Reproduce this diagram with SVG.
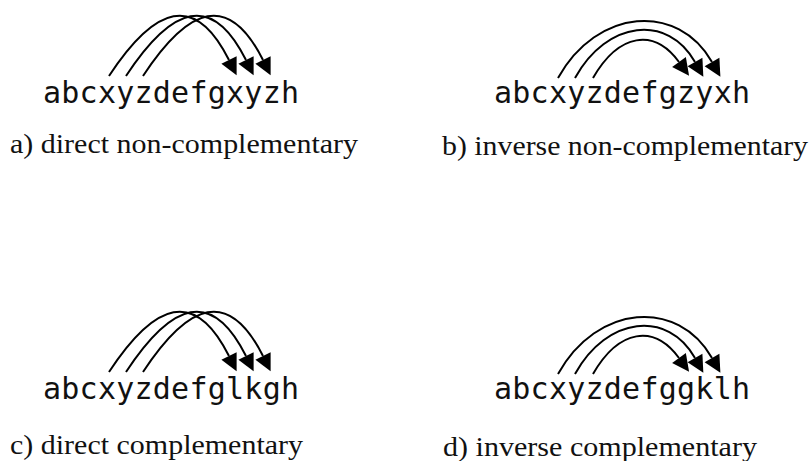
<svg xmlns="http://www.w3.org/2000/svg" width="812" height="461" viewBox="0 0 812 461">
<style>
.seq{font-family:"DejaVu Sans Mono","Liberation Mono",monospace;font-size:30px;fill:#111}
.cap{font-family:"Liberation Serif","Times New Roman",serif;font-size:28px;fill:#111}
.arc{fill:none;stroke:#000;stroke-width:2;marker-end:url(#ah)}
</style>
<defs>
<marker id="ah" markerUnits="userSpaceOnUse" markerWidth="20" markerHeight="20" refX="0" refY="8.5" orient="auto" overflow="visible">
<path d="M0,0 L17,8.5 L0,17 Z" fill="#000"/>
</marker>
<g id="directArcs">
<path class="arc" d="M109,76 C155,6 195,-8 229,60"/>
<path class="arc" d="M126,76 C172,6 212,-8 246,60"/>
<path class="arc" d="M143,76 C189,6 229,-8 263,60"/>
</g>
<g id="inverseArcs">
<path class="arc" d="M558,78 C597,8 678,2 712,62"/>
<path class="arc" d="M575,78 C607,20 668,14 695,62"/>
<path class="arc" d="M593,78 C619,33 654,28 679,62"/>
</g>
</defs>
<g id="connectors">
<use href="#directArcs"/>
<use href="#inverseArcs"/>
<use href="#directArcs" transform="translate(0,296)"/>
<use href="#inverseArcs" transform="translate(0,296)"/>
</g>
<g id="panel-a">
<text class="seq" x="43" y="102.5" textLength="256" lengthAdjust="spacing">abcxyzdefgxyzh</text>
<text class="cap" x="10" y="153" textLength="348" lengthAdjust="spacingAndGlyphs">a) direct non-complementary</text>
</g>
<g id="panel-b">
<text class="seq" x="494" y="102.5" textLength="256" lengthAdjust="spacing">abcxyzdefgzyxh</text>
<text class="cap" x="442" y="155" textLength="366" lengthAdjust="spacingAndGlyphs">b) inverse non-complementary</text>
</g>
<g id="panel-c">
<text class="seq" x="43" y="398.5" textLength="256" lengthAdjust="spacing">abcxyzdefglkgh</text>
<text class="cap" x="10" y="454" textLength="293" lengthAdjust="spacingAndGlyphs">c) direct complementary</text>
</g>
<g id="panel-d">
<text class="seq" x="494" y="398.5" textLength="256" lengthAdjust="spacing">abcxyzdefggklh</text>
<text class="cap" x="443" y="456" textLength="314" lengthAdjust="spacingAndGlyphs">d) inverse complementary</text>
</g>
</svg>
